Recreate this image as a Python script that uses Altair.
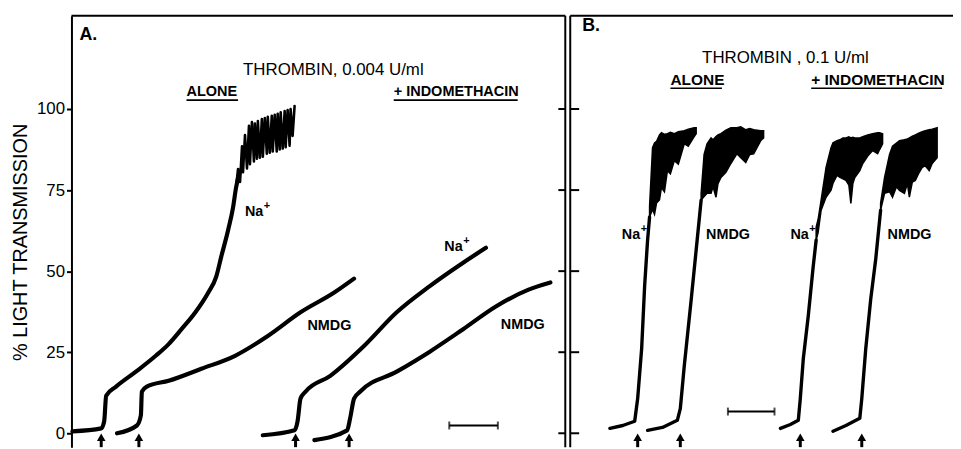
import altair as alt
import pandas as pd

# ---------------- data (time in chart units, transmission in %) ----------------
# Panel A: thrombin 0.004 U/ml
a_na_alone_t = [1, 30, 33, 35, 45, 65, 85, 98, 111, 125, 138, 146, 151, 158, 163, 166, 170]
a_na_alone_v = [0.6, 1.5, 3.7, 11.6, 14.4, 19.0, 23.9, 27.5, 32.1, 37.3, 43.4, 48.3, 54.4, 62.7, 69.7, 75.8, 81.0]
a_na_alone_noise_t = [166, 168, 170, 172, 173, 175, 177, 179, 180, 182, 184, 185, 187, 188, 190, 192, 193, 195, 197, 198,
                      200, 202, 203, 205, 207, 208, 210, 211, 213, 215, 216, 218, 220, 221, 223, 225]
a_na_alone_noise_v = [75.8, 81.5, 77.5, 88.5, 80.5, 92.0, 81.7, 94.8, 83.0, 96.0, 83.8, 95.5, 84.7, 96.3, 85.0, 96.9, 85.3, 97.2, 86.2, 97.6,
                      86.5, 97.9, 86.9, 98.2, 86.9, 98.5, 87.5, 99.0, 87.8, 99.4, 88.2, 99.7, 88.7, 100.0, 91.7, 100.9]

a_nmdg_alone_t = [46, 66, 70, 71, 76, 98, 131, 165, 198, 231, 265, 285]
a_nmdg_alone_v = [0.0, 2.4, 5.5, 12.8, 14.4, 16.2, 19.9, 23.9, 30.0, 37.3, 43.4, 47.7]

a_na_indo_t = [193, 225, 228, 231, 236, 261, 295, 328, 361, 395, 418]
a_na_indo_v = [-0.6, 0.9, 3.7, 10.7, 12.8, 17.7, 26.9, 37.3, 45.3, 52.6, 57.2]

a_nmdg_indo_t = [245, 278, 281, 285, 291, 328, 361, 395, 428, 461, 483]
a_nmdg_indo_v = [-2.1, 0.9, 4.6, 10.7, 12.8, 19.0, 25.1, 32.1, 39.1, 44.3, 46.5]

# Panel B: thrombin 0.1 U/ml (rise as line, noisy plateau as envelope)
b_na_alone_t = [543, 556, 568, 571, 575, 578, 581, 583]
b_na_alone_v = [1.5, 2.4, 3.7, 10.7, 26.0, 45.3, 59.6, 66.7]
b_na_alone_band_t = [583, 586, 588, 590, 593, 595, 598, 601, 604, 608, 612, 618, 622, 628, 630]
b_na_alone_band_lo = [66.7, 69.0, 67.5, 71.0, 72.0, 75.8, 74.5, 81.0, 80.0, 84.1, 83.0, 89.3, 88.5, 91.5, 92.4]
b_na_alone_band_hi = [70.0, 88.1, 89.5, 90.0, 92.0, 92.7, 92.2, 92.4, 92.8, 92.4, 93.0, 93.3, 93.8, 94.2, 94.2]

b_nmdg_alone_t = [581, 596, 611, 614, 618, 625, 631, 635]
b_nmdg_alone_v = [0.9, 1.8, 4.0, 7.6, 20.8, 41.3, 59.6, 71.9]
b_nmdg_alone_band_t = [635, 638, 641, 645, 647, 650, 652, 655, 660, 665, 671, 675, 680, 684, 688, 695, 698]
b_nmdg_alone_band_lo = [71.9, 73.0, 74.0, 74.0, 76.0, 72.8, 77.0, 78.9, 80.5, 83.2, 86.2, 85.0, 83.5, 86.0, 86.2, 90.2, 91.1]
b_nmdg_alone_band_hi = [74.0, 86.0, 89.3, 91.1, 90.5, 91.5, 92.0, 92.4, 93.5, 94.2, 94.2, 94.5, 93.6, 94.0, 93.6, 93.3, 93.3]

b_na_indo_t = [715, 725, 733, 735, 738, 743, 748, 751]
b_na_indo_v = [1.5, 2.7, 4.0, 10.7, 22.9, 36.1, 51.4, 59.6]
b_na_indo_band_t = [751, 753, 756, 761, 766, 768, 772, 775, 778, 781, 784, 786, 788, 790, 795, 798, 803, 808, 813, 815, 818]
b_na_indo_band_lo = [59.6, 62.0, 68.8, 72.8, 75.0, 77.1, 79.5, 78.9, 78.5, 78.0, 76.5, 70.9, 77.0, 78.9, 81.0, 83.2, 85.5, 87.2, 86.2, 87.5, 89.3]
b_na_indo_band_hi = [63.6, 66.0, 71.9, 82.0, 88.1, 89.6, 90.2, 90.5, 91.1, 91.1, 91.4, 91.1, 91.3, 91.1, 91.1, 91.5, 92.0, 92.4, 92.7, 92.7, 92.4]

b_nmdg_indo_t = [768, 781, 795, 797, 801, 806, 811, 816]
b_nmdg_indo_v = [0.6, 2.4, 4.6, 10.7, 26.0, 41.3, 53.5, 68.8]
b_nmdg_indo_band_t = [816, 820, 825, 828, 832, 835, 840, 843, 845, 848, 851, 855, 858, 861, 865, 868, 873]
b_nmdg_indo_band_lo = [68.8, 74.0, 74.5, 72.8, 76.0, 74.9, 74.0, 77.0, 72.8, 77.5, 78.0, 80.5, 82.0, 82.5, 81.0, 83.2, 85.0]
b_nmdg_indo_band_hi = [71.0, 78.9, 86.0, 88.5, 89.5, 90.2, 90.5, 90.8, 91.1, 91.6, 92.0, 92.6, 93.0, 93.3, 93.6, 93.8, 94.2]

# thrombin addition (arrows) and time-scale bars
arrow_t = [30, 68, 226, 280, 571, 614, 735, 797]
scalebar_t = [381, 662]
scalebar_t2 = [430, 709]
scalebar_v = [2.4, 6.7]

# axis ticks
y_ticks = [0, 25, 50, 75, 100]

# panel geometry (chart units)
T_MAX = 889
A_RIGHT = 498
B_LEFT = 503
V_TOP = 128.75
V_BOTTOM = -4.28

# annotations
titles = ["THROMBIN, 0.004 U/ml", "THROMBIN , 0.1 U/ml"]
titles_t = [173, 636]
titles_v = [111.9, 115.6]

letters = ["A.", "B."]
letters_t = [8, 515]
letters_v = [122.9, 125.7]

conds_a = ["ALONE", "+ INDOMETHACIN"]
conds_a_t = [116, 325]
conds_a_t2 = [168, 450]
conds_a_v = [105.2, 105.2]
conds_a_line_v = [102.75, 102.75]

conds_b = ["ALONE", "+ INDOMETHACIN"]
conds_b_t = [604, 746]
conds_b_t2 = [656, 878]
conds_b_v = [108.9, 108.9]
conds_b_line_v = [106.4, 106.4]

trace_labels = ["Na", "NMDG", "Na", "NMDG", "Na", "NMDG", "Na", "NMDG"]
trace_labels_t = [175, 238, 376, 433, 555, 640, 725, 823]
trace_labels_v = [68.2, 33.0, 57.5, 33.3, 61.2, 61.2, 61.2, 61.2]
plus_t = [175, 376, 555, 725]
plus_v = [68.2, 57.5, 61.2, 61.2]

# ---------------- tables ----------------
def line_df(name, t, v):
    return pd.DataFrame({"trace": name, "t": t, "v": v, "i": list(range(len(t)))})

def band_df(name, t, lo, hi):
    return pd.DataFrame({"trace": name, "t": t, "lo": lo, "hi": hi})

lines_a = pd.concat([
    line_df("a_na_alone", a_na_alone_t, a_na_alone_v),
    line_df("a_nmdg_alone", a_nmdg_alone_t, a_nmdg_alone_v),
    line_df("a_na_indo", a_na_indo_t, a_na_indo_v),
    line_df("a_nmdg_indo", a_nmdg_indo_t, a_nmdg_indo_v),
])
noise_a = line_df("a_na_alone_noise", a_na_alone_noise_t, a_na_alone_noise_v)
lines_b = pd.concat([
    line_df("b_na_alone", b_na_alone_t, b_na_alone_v),
    line_df("b_nmdg_alone", b_nmdg_alone_t, b_nmdg_alone_v),
    line_df("b_na_indo", b_na_indo_t, b_na_indo_v),
    line_df("b_nmdg_indo", b_nmdg_indo_t, b_nmdg_indo_v),
])
bands_b = pd.concat([
    band_df("b_na_alone", b_na_alone_band_t, b_na_alone_band_lo, b_na_alone_band_hi),
    band_df("b_nmdg_alone", b_nmdg_alone_band_t, b_nmdg_alone_band_lo, b_nmdg_alone_band_hi),
    band_df("b_na_indo", b_na_indo_band_t, b_na_indo_band_lo, b_na_indo_band_hi),
    band_df("b_nmdg_indo", b_nmdg_indo_band_t, b_nmdg_indo_band_lo, b_nmdg_indo_band_hi),
])

frame = pd.DataFrame({
    "t": [0, A_RIGHT, B_LEFT, B_LEFT],
    "t2": [A_RIGHT, A_RIGHT, B_LEFT, T_MAX],
    "v": [V_TOP, V_BOTTOM, V_BOTTOM, V_TOP],
    "v2": [V_TOP, V_TOP, V_TOP, V_TOP],
})
inner_ticks = pd.DataFrame({
    "t": [A_RIGHT - 7] * len(y_ticks) + [B_LEFT] * len(y_ticks),
    "t2": [A_RIGHT] * len(y_ticks) + [B_LEFT + 9] * len(y_ticks),
    "v": y_ticks + y_ticks,
})
arrows = pd.DataFrame({"t": arrow_t, "head": [-1.2] * len(arrow_t), "s1": [-1.6] * len(arrow_t), "s2": [V_BOTTOM] * len(arrow_t)})
bars = pd.DataFrame({"t": scalebar_t, "t2": scalebar_t2, "v": scalebar_v})
caps = pd.DataFrame({"t": scalebar_t + scalebar_t2, "v": scalebar_v + scalebar_v})

title_df = pd.DataFrame({"text": titles, "t": titles_t, "v": titles_v})
letter_df = pd.DataFrame({"text": letters, "t": letters_t, "v": letters_v})
cond_a_df = pd.DataFrame({"text": conds_a, "t": conds_a_t, "t2": conds_a_t2, "v": conds_a_v, "lv": conds_a_line_v})
cond_b_df = pd.DataFrame({"text": conds_b, "t": conds_b_t, "t2": conds_b_t2, "v": conds_b_v, "lv": conds_b_line_v})
lab_df = pd.DataFrame({"text": trace_labels, "t": trace_labels_t, "v": trace_labels_v})
plus_df = pd.DataFrame({"text": ["+"] * len(plus_t), "t": plus_t, "v": plus_v})

# ---------------- encodings ----------------
FONT = "Liberation Sans"
xs = alt.Scale(domain=[0, T_MAX], nice=False, zero=False)
ys = alt.Scale(domain=[V_BOTTOM, V_TOP], nice=False, zero=False)
TITLE = "% LIGHT TRANSMISSION"

def X(f="t"):
    return alt.X(f"{f}:Q", scale=xs, axis=None)

yaxis = alt.Axis(values=y_ticks, title=TITLE, grid=False, tickSize=5, tickWidth=2,
                 tickColor="black", domainColor="black", domainWidth=2,
                 labelFont=FONT, labelFontSize=17, labelColor="black", labelPadding=2,
                 titleFont=FONT, titleFontSize=20, titleFontWeight="normal", titleColor="black",
                 titleAngle=270, titleX=-51, titleY=228, titleAlign="center", titleBaseline="middle")

def Y(f="v", axis=False):
    if axis:
        return alt.Y(f"{f}:Q", scale=ys, axis=yaxis, title=TITLE)
    return alt.Y(f"{f}:Q", scale=ys, title=TITLE)

base_axis = alt.Chart(pd.DataFrame({"v": y_ticks})).mark_point(opacity=0).encode(
    x=alt.value(0), y=Y("v", axis=True))

la = alt.Chart(lines_a).mark_line(color="black", strokeWidth=4.2, strokeJoin="round", strokeCap="round",
                                   interpolate="monotone").encode(
    x=X(), y=Y(), detail="trace:N", order="i:Q")
na = alt.Chart(noise_a).mark_line(color="black", strokeWidth=2.6, strokeJoin="round", strokeCap="round").encode(
    x=X(), y=Y(), detail="trace:N", order="i:Q")
lb = alt.Chart(lines_b).mark_line(color="black", strokeWidth=3.4, strokeJoin="round", strokeCap="round").encode(
    x=X(), y=Y(), detail="trace:N", order="i:Q")
bb = alt.Chart(bands_b).mark_area(color="black", stroke="black", strokeWidth=1.5, opacity=1).encode(
    x=X(), y=Y("lo"), y2="hi:Q", detail="trace:N")

fr = alt.Chart(frame).mark_rule(color="black", strokeWidth=2).encode(
    x=X(), x2="t2:Q", y=Y(), y2="v2:Q")
it = alt.Chart(inner_ticks).mark_rule(color="black", strokeWidth=2).encode(
    x=X(), x2="t2:Q", y=Y())

ah = alt.Chart(arrows).mark_point(shape="triangle-up", filled=True, color="black", size=75, opacity=1).encode(
    x=X(), y=Y("head"))
ash = alt.Chart(arrows).mark_rule(color="black", strokeWidth=3).encode(
    x=X(), y=Y("s1"), y2="s2:Q")

sb = alt.Chart(bars).mark_rule(color="black", strokeWidth=2).encode(x=X(), x2="t2:Q", y=Y())
sc = alt.Chart(caps).mark_tick(color="black", thickness=2, size=8, orient="vertical").encode(x=X(), y=Y())

tt = alt.Chart(title_df).mark_text(align="left", baseline="middle", font=FONT, fontSize=17, color="black").encode(
    x=X(), y=Y(), text="text:N")
lt = alt.Chart(letter_df).mark_text(align="left", baseline="middle", font=FONT, fontSize=18, fontWeight="bold", color="black").encode(
    x=X(), y=Y(), text="text:N")
cta = alt.Chart(cond_a_df).mark_text(align="left", baseline="middle", font=FONT, fontSize=14.6, fontWeight="bold", color="black").encode(
    x=X(), y=Y(), text="text:N")
cua = alt.Chart(cond_a_df).mark_rule(color="black", strokeWidth=1.6).encode(x=X(), x2="t2:Q", y=Y("lv"))
ctb = alt.Chart(cond_b_df).mark_text(align="left", baseline="middle", font=FONT, fontSize=15.6, fontWeight="bold", color="black").encode(
    x=X(), y=Y(), text="text:N")
cub = alt.Chart(cond_b_df).mark_rule(color="black", strokeWidth=1.6).encode(x=X(), x2="t2:Q", y=Y("lv"))
tl = alt.Chart(lab_df).mark_text(align="left", baseline="middle", font=FONT, fontSize=14.5, fontWeight="bold", color="black").encode(
    x=X(), y=Y(), text="text:N")
pl = alt.Chart(plus_df).mark_text(align="left", baseline="middle", font=FONT, fontSize=11, fontWeight="bold", color="black", dx=19, dy=-6).encode(
    x=X(), y=Y(), text="text:N")

chart = alt.layer(base_axis, fr, it, la, na, lb, bb, ah, ash, sb, sc, tt, lt, cta, cua, ctb, cub, tl, pl).properties(
    width=889, height=435,
    autosize=alt.AutoSizeParams(type="none"),
    padding={"left": 64, "top": 6, "right": 0, "bottom": 0},
    background="white",
).configure_view(stroke=None)

chart.save("out.html", embed_options={"renderer": "svg", "actions": False})
